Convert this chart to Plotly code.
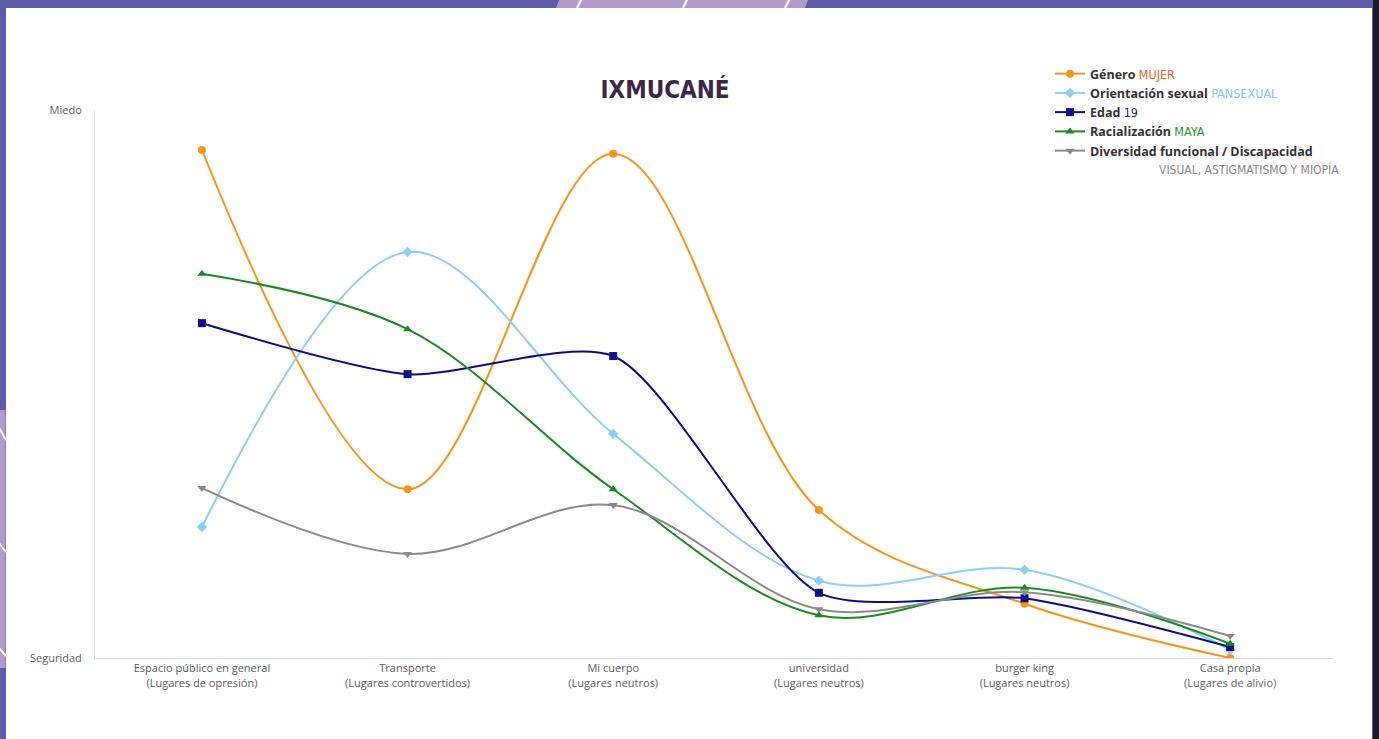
import plotly.graph_objects as go

categories = [
    "Espacio público en general<br>(Lugares de opresión)",
    "Transporte<br>(Lugares controvertidos)",
    "Mi cuerpo<br>(Lugares neutros)",
    "universidad<br>(Lugares neutros)",
    "burger king<br>(Lugares neutros)",
    "Casa propia<br>(Lugares de alivio)",
]
genero = [9.27, 3.08, 9.20, 2.70, 0.99, 0.0]
orientacion = [2.39, 7.41, 4.09, 1.41, 1.61, 0.15]
edad = [6.11, 5.18, 5.51, 1.19, 1.09, 0.20]
racializacion = [7.01, 6.00, 3.08, 0.78, 1.28, 0.26]
diversidad = [3.10, 1.90, 2.79, 0.89, 1.20, 0.40]

y_tickvals = [0, 10]
y_ticktext = ["Seguridad", "Miedo"]

COND = "DejaVu Sans Condensed, sans-serif"

def tag(txt, color):
    return f'<span style="color:{color};font-family:DejaVu Sans Condensed,sans-serif;font-weight:normal">{txt}</span>'

series = [
    ("Género " + tag("MUJER", "#e8662a"), genero, "#f7941d", "circle", 1.0),
    ("Orientación sexual " + tag("PANSEXUAL", "#7ccbf0"), orientacion, "#8dcff5", "diamond", 1.0),
    ("Edad " + tag("19", "#1a1a8c"), edad, "#0d0d85", "square", 0.7),
    ("Racialización " + tag("MAYA", "#1e9a2a"), racializacion, "#1b8a22", "triangle-up", 1.0),
    ("Diversidad funcional / Discapacidad", diversidad, "#8a8a8a", "triangle-down", 1.0),
]

fig = go.Figure()
x_idx = list(range(len(categories)))
for name, vals, color, sym, sm in series:
    fig.add_trace(go.Scatter(
        x=x_idx, y=vals, name=name, mode="lines+markers",
        line=dict(color=color, width=2, shape="spline", smoothing=sm),
        marker=dict(color=color, symbol=sym, size=8),
    ))

# plot-area pixel mapping helpers for decorative frame (paper coords)
L, R, T, B = 95, 46, 110, 81
W, H = 1379 - L - R, 739 - T - B
def px(x):
    return (x - L) / W
def py(y):
    return (739 - B - y) / H

shapes = [
    dict(type="rect", xref="paper", yref="paper", x0=px(6), x1=px(1372), y0=py(760), y1=py(8),
         fillcolor="white", line=dict(width=0), layer="below"),
    dict(type="rect", xref="paper", yref="paper", x0=px(1373), x1=px(1400), y0=py(760), y1=py(-20),
         fillcolor="#1b1a2e", line=dict(width=0), layer="below"),
    dict(type="path", xref="paper", yref="paper",
         path=f"M {px(556)},{py(8)} L {px(561)},{py(-5)} L {px(810)},{py(-5)} L {px(805)},{py(8)} Z",
         fillcolor="#b09ccb", line=dict(width=0), layer="below"),
    dict(type="rect", xref="paper", yref="paper", x0=px(-10), x1=px(5.5), y0=py(668), y1=py(410),
         fillcolor="#b09ccb", line=dict(width=0), layer="below"),
]
for xb, xt in [(577, 582), (683, 688), (785, 790)]:
    shapes.append(dict(type="line", xref="paper", yref="paper", x0=px(xb), x1=px(xt), y0=py(8), y1=py(-2),
                       line=dict(color="white", width=2), layer="below"))
for yl, yr in [(432, 440), (548, 552), (653, 656)]:
    shapes.append(dict(type="line", xref="paper", yref="paper", x0=px(-2), x1=px(6), y0=py(yl - 6), y1=py(yr),
                       line=dict(color="white", width=2), layer="below"))

fig.update_layout(
    width=1379, height=739,
    margin=dict(l=L, r=R, t=T, b=B),
    paper_bgcolor="#5d5ba6",
    plot_bgcolor="rgba(0,0,0,0)",
    shapes=shapes,
    title=dict(text="IXMUCANÉ", xref="container", x=665 / 1379, xanchor="center",
               yref="container", y=1 - 90 / 739, yanchor="middle",
               font=dict(family="DejaVu Sans Condensed", size=24, color="#3b2747", weight="bold")),
    legend=dict(x=px(1050), xanchor="left", y=py(59), yanchor="top",
                bgcolor="rgba(0,0,0,0)", itemwidth=30, tracegroupgap=0,
                font=dict(family="Open Sans", size=12.5, color="#333333", weight="bold")),
    showlegend=True,
    xaxis=dict(
        tickmode="array", tickvals=x_idx, ticktext=categories,
        range=[-0.52, 5.5], showgrid=False, zeroline=False,
        showline=True, linecolor="#d0d8e6", linewidth=1, ticks="",
        tickfont=dict(family="Open Sans", size=11, color="#606060"),
    ),
    yaxis=dict(
        tickmode="array", tickvals=y_tickvals, ticktext=y_ticktext,
        range=[0, 10], showgrid=False, zeroline=False,
        showline=True, linecolor="#e2e2e2", linewidth=1, ticks="",
        ticklabelstandoff=10,
        tickfont=dict(family="Open Sans", size=11, color="#606060"),
    ),
    annotations=[
        dict(text="VISUAL, ASTIGMATISMO Y MIOPÍA", xref="paper", yref="paper",
             x=px(1341), y=py(169), xanchor="right", yanchor="middle", showarrow=False,
             font=dict(family=COND, size=12, color="#8a8a8a")),
    ],
)

fig.write_html("out.html", config={"displayModeBar": False},
               post_script="document.body.style.margin='0px';document.body.style.overflow='hidden';")
